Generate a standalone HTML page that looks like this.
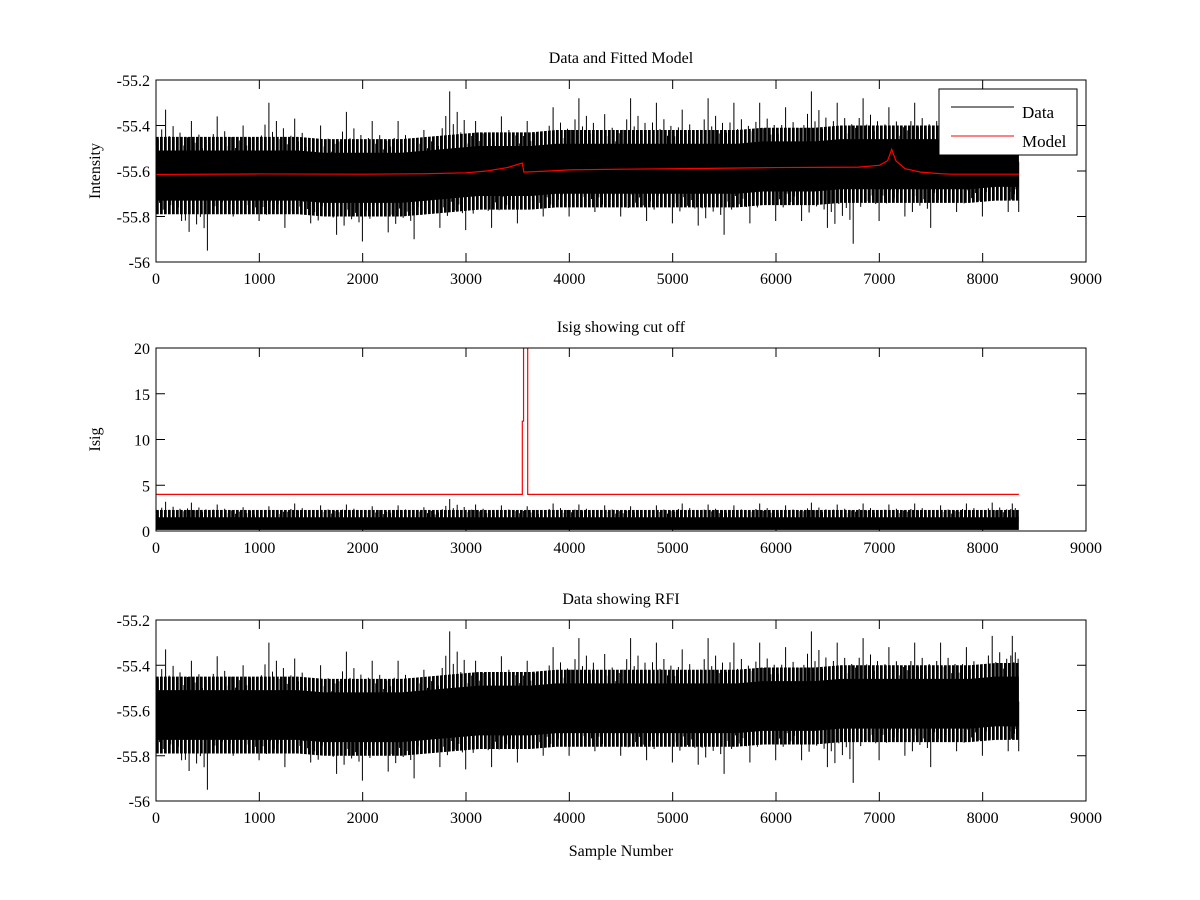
<!DOCTYPE html>
<html><head><meta charset="utf-8">
<style>
html,body{margin:0;padding:0;background:#fff;}
svg{display:block;}
text{font-family:"Liberation Serif",serif;font-size:16px;fill:#000;}
</style></head>
<body>
<svg id="fig" width="1200" height="900" viewBox="0 0 1200 900">
<defs>
<pattern id="hatch" patternUnits="userSpaceOnUse" width="4" height="40">
<rect x="0" y="0" width="2" height="40" fill="#000"/>
<rect x="2" y="0" width="1" height="40" fill="#444"/>
</pattern>
</defs>
<rect x="0" y="0" width="1200" height="900" fill="#fff"/>
</svg>
<script>
// ---- data (250-sample bins) ----
const binSize = 250;
const dataEnd = 8350;
const dataMax = [-55.33,-55.38,-55.36,-55.40,-55.30,-55.37,-55.40,-55.34,-55.38,-55.38,-55.42,-55.25,-55.38,-55.36,-55.38,-55.32,-55.28,-55.35,-55.28,-55.30,-55.33,-55.28,-55.30,-55.30,-55.32,-55.25,-55.30,-55.28,-55.32,-55.30,-55.30,-55.32,-55.27,-55.27];
const dataMin = [-55.82,-55.95,-55.80,-55.82,-55.85,-55.83,-55.88,-55.91,-55.87,-55.90,-55.85,-55.86,-55.85,-55.83,-55.80,-55.80,-55.78,-55.80,-55.82,-55.83,-55.84,-55.88,-55.83,-55.82,-55.82,-55.85,-55.92,-55.82,-55.80,-55.85,-55.78,-55.80,-55.78,-55.78];
const dataMean = [-55.62,-55.62,-55.62,-55.62,-55.62,-55.62,-55.63,-55.63,-55.63,-55.63,-55.62,-55.61,-55.60,-55.60,-55.60,-55.59,-55.59,-55.59,-55.59,-55.59,-55.59,-55.59,-55.59,-55.58,-55.58,-55.58,-55.57,-55.57,-55.57,-55.57,-55.57,-55.57,-55.56,-55.56];
const modelX = [0,1000,2000,2600,3000,3200,3400,3545,3560,3800,4000,4500,5000,6000,6800,7000,7080,7120,7160,7250,7400,7600,7700,8350];
const modelY = [-55.615,-55.613,-55.614,-55.612,-55.608,-55.600,-55.585,-55.565,-55.605,-55.600,-55.595,-55.592,-55.590,-55.585,-55.583,-55.575,-55.555,-55.505,-55.555,-55.590,-55.605,-55.612,-55.614,-55.614];
const isigMax = [3.2,3.1,2.9,2.6,2.7,3.0,2.8,2.9,2.7,2.8,2.6,3.5,2.9,2.8,2.7,3.0,2.9,2.8,2.7,2.8,3.0,2.9,2.8,3.0,2.8,3.1,2.9,3.0,2.9,3.0,2.8,3.0,3.1,3.0];
const cutX = [0,3545,3545,3557,3557,3597,3597,8350];
const cutY = [4,4,12,12,25,25,4,4];
const xTicks = [0,1000,2000,3000,4000,5000,6000,7000,8000,9000];
const yTicksIntensity = [-56,-55.8,-55.6,-55.4,-55.2];
const yTicksIsig = [0,5,10,15,20];

const NS = "http://www.w3.org/2000/svg";
const svg = document.getElementById('fig');
function mk(tag, attrs, parent){const e=document.createElementNS(NS,tag);for(const k in attrs)e.setAttribute(k,attrs[k]);(parent||svg).appendChild(e);return e;}

const X0=156, X1=1086;
function xs(v){return X0+(v/9000)*(X1-X0);}
const spikeFrac=[0.08,0.22,0.37,0.51,0.66,0.8,0.93];
const spikeScale=[0.55,0.7,1.0,0.6,0.75,0.5,0.65];

function makeAxes(top, bottom, ymin, ymax, yTicks, title, titleY, ylabel, name){
  const ys=v=>bottom-(v-ymin)/(ymax-ymin)*(bottom-top);
  const g=mk('g',{});
  
  
  const clipId='clip-'+name;
  const cp=mk('clipPath',{id:clipId},g);
  mk('rect',{x:X0,y:top,width:X1-X0,height:bottom-top},cp);
  const plot=mk('g',{'clip-path':'url(#'+clipId+')'},g);
  
  
  xTicks.forEach(t=>{
    const x=xs(t);
    const tk=mk('path',{d:`M${x} ${bottom}V${bottom-9}M${x} ${top}V${top+9}`,stroke:'#000','stroke-width':1,fill:'none'},g);
    
    
    const tl=mk('text',{x:x,y:bottom+22,'text-anchor':'middle'},g);
    tl.textContent=t;
    
    
  });
  yTicks.forEach(t=>{
    const y=ys(t);
    const tk=mk('path',{d:`M${X0} ${y}H${X0+9}M${X1} ${y}H${X1-9}`,stroke:'#000','stroke-width':1,fill:'none'},g);
    
    
    const tl=mk('text',{x:X0-6,y:y+6,'text-anchor':'end'},g);
    tl.textContent=t;
    
    
  });
  const tt=mk('text',{x:(X0+X1)/2,y:titleY,'text-anchor':'middle'},g);
  tt.textContent=title;
  
  
  if(ylabel){
    const yl=mk('text',{x:0,y:0,'text-anchor':'middle',transform:`translate(100 ${(top+bottom)/2}) rotate(-90)`},g);
    yl.textContent=ylabel;
    
    
  }
  return {g,plot,ys,top,bottom};
}

function bandPoints(ys, off){
  const n=dataMean.length, up=[], lo=[];
  for(let i=0;i<n;i++){
    const c=xs(Math.min(i*binSize+binSize/2,dataEnd));
    up.push(`${c},${ys(dataMean[i]+off)}`);
    lo.unshift(`${c},${ys(dataMean[i]-off)}`);
  }
  up.unshift(`${xs(0)},${ys(dataMean[0]+off)}`);
  up.push(`${xs(dataEnd)},${ys(dataMean[n-1]+off)}`);
  lo.unshift(`${xs(dataEnd)},${ys(dataMean[n-1]-off)}`);
  lo.push(`${xs(0)},${ys(dataMean[0]-off)}`);
  return up.concat(lo).join(' ');
}

function drawNoise(ax, name){
  const ys=ax.ys;
  const n=dataMax.length;
  const p1=mk('polygon',{points:bandPoints(ys,0.17),fill:'url(#hatch)'},ax.plot);
  
  
  const p2=mk('polygon',{points:bandPoints(ys,0.11),fill:'#000'},ax.plot);
  
  
  let d='';
  for(let i=0;i<n;i++){
    const a=i*binSize, w=Math.min(binSize,dataEnd-a);
    const m=dataMean[i];
    spikeFrac.forEach((f,k)=>{
      const x=xs(a+w*f).toFixed(1);
      const sc=spikeScale[k];
      const sc2=spikeScale[(k+3)%spikeScale.length];
      d+=`M${x} ${ys(m)}V${ys(m+(dataMax[i]-m)*sc)}`;
      const x2=xs(a+w*Math.min(f+0.06,1)).toFixed(1);
      d+=`M${x2} ${ys(m)}V${ys(m+(dataMin[i]-m)*sc2)}`;
    });
  }
  const sp=mk('path',{d:d,stroke:'#000','stroke-width':1,fill:'none'},ax.plot);
  
  
}

function frame(ax,name){
  const f=mk('rect',{x:X0,y:ax.top,width:X1-X0,height:ax.bottom-ax.top,fill:'none',stroke:'#000','stroke-width':1},ax.g);
  
  
}

// Panel 1
const ax1=makeAxes(80,262,-56,-55.2,yTicksIntensity,'Data and Fitted Model',63,'Intensity','panel-data-model');
drawNoise(ax1,'data');
const mpts=modelX.map((v,i)=>`${xs(v)},${ax1.ys(modelY[i])}`).join(' ');
const ml=mk('polyline',{points:mpts,fill:'none',stroke:'#f00','stroke-width':1.2},ax1.plot);


frame(ax1,'panel-data-model');
const lg=mk('g',{});


mk('rect',{x:939,y:89,width:138,height:66,fill:'#fff',stroke:'#000','stroke-width':1},lg);
const le1=mk('line',{x1:951,x2:1014,y1:107,y2:107,stroke:'#000'},lg);


const lt1=mk('text',{x:1022,y:118},lg);lt1.textContent='Data';


const le2=mk('line',{x1:951,x2:1014,y1:136,y2:136,stroke:'#f00'},lg);


const lt2=mk('text',{x:1022,y:147},lg);lt2.textContent='Model';


lt1.style.fontSize='17px';lt2.style.fontSize='17px';

// Panel 2
const ax2=makeAxes(348,531,0,20,yTicksIsig,'Isig showing cut off',332,'Isig','panel-isig');
{
  const ys=ax2.ys;
  const n=isigMax.length;
  const sb=mk('rect',{x:xs(0),y:ys(2.3),width:xs(dataEnd)-xs(0),height:ys(1.4)-ys(2.3),fill:'url(#hatch)'},ax2.plot);
  
  
  const band=mk('rect',{x:xs(0),y:ys(1.5),width:xs(dataEnd)-xs(0),height:ys(0.12)-ys(1.5),fill:'#000'},ax2.plot);
  
  
  let d='';
  for(let i=0;i<n;i++){
    const a=i*binSize, w=Math.min(binSize,dataEnd-a);
    spikeFrac.forEach((f,k)=>{
      const x=xs(a+w*f).toFixed(1);
      d+=`M${x} ${ys(1)}V${ys(1+(isigMax[i]-1)*spikeScale[k])}`;
    });
  }
  const s=mk('path',{d:d,stroke:'#000','stroke-width':1,fill:'none'},ax2.plot);
  
  
  const cp=cutX.map((v,i)=>`${xs(v)},${ys(cutY[i])}`).join(' ');
  const cl=mk('polyline',{points:cp,fill:'none',stroke:'#f00','stroke-width':1.2},ax2.plot);
  
  
}
frame(ax2,'panel-isig');

// Panel 3
const ax3=makeAxes(620,801,-56,-55.2,yTicksIntensity,'Data showing RFI',604,null,'panel-rfi');
drawNoise(ax3,'rfi-data');
frame(ax3,'panel-rfi');
const xl=mk('text',{x:(X0+X1)/2,y:856,'text-anchor':'middle'});
xl.textContent='Sample Number';


</script>
</body></html>
